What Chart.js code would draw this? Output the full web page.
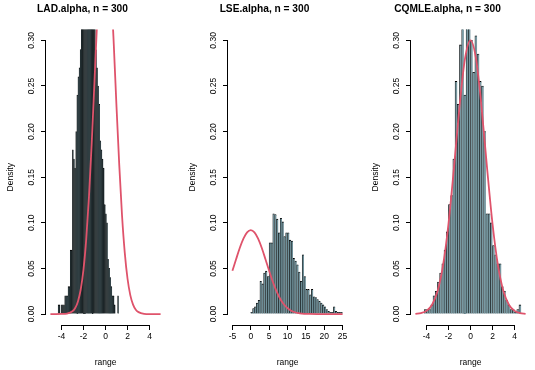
<!DOCTYPE html>
<html><head><meta charset="utf-8">
<script src="https://cdn.jsdelivr.net/npm/chart.js@4.4.1/dist/chart.umd.min.js"></script>
<style>
html,body{margin:0;padding:0;background:#fff;overflow:hidden;}
body{width:535px;height:370px;position:relative;}
canvas{position:absolute;top:0;}
</style></head><body>
<canvas id="p1" width="211" height="370" style="left:0px"></canvas>
<canvas id="p2" width="211" height="370" style="left:182px"></canvas>
<canvas id="p3" width="211" height="370" style="left:365px"></canvas>
<script>
// ---------- titles and ticks ----------
const ladTitle = 'LAD.alpha, n = 300';
const lseTitle = 'LSE.alpha, n = 300';
const cqTitle = 'CQMLE.alpha, n = 300';
const yTicks = [0, 0.05, 0.10, 0.15, 0.20, 0.25, 0.30];
const ladXTicks = [-4, -2, 0, 2, 4];
const lseXTicks = [-5, 0, 5, 10, 15, 20, 25];
const cqXTicks = [-4, -2, 0, 2, 4];

// ---------- LAD.alpha histogram (bin centres, density) ----------
const ladBins = [-4.25,-4.15,-4.05,-3.95,-3.85,-3.75,-3.65,-3.55,-3.45,-3.35,-3.25,-3.15,-3.05,-2.95,-2.85,-2.75,-2.65,-2.55,-2.45,-2.35,-2.25,-2.15,-2.05,-1.95,-1.85,-1.75,-1.65,-1.55,-1.45,-1.35,-1.25,-1.15,-1.05,-0.95,-0.85,-0.75,-0.65,-0.55,-0.45,-0.35,-0.25,-0.15,-0.05,0.05,0.15,0.25,0.35,0.45,0.55,0.65,0.75,0.85,0.95,1.05,1.15,1.25];
const ladDensity = [0.01,0.01,0.00,0.01,0.01,0.01,0.02,0.02,0.02,0.03,0.03,0.07,0.07,0.18,0.17,0.16,0.20,0.24,0.26,0.27,0.29,0.33,0.36,0.38,0.40,0.42,0.43,0.42,0.44,0.42,0.41,0.39,0.36,0.33,0.29,0.27,0.25,0.23,0.19,0.18,0.17,0.16,0.12,0.11,0.10,0.06,0.05,0.04,0.03,0.02,0.02,0.01,0.00,0.00,0.02,0.00];
const ladCurveX = [-5,-4.5,-4,-3.5,-3,-2.75,-2.5,-2.25,-2,-1.75,-1.5,-1.25,-1,-0.75,-0.5,-0.25,0,0.25,0.5,0.75,1,1.25,1.5,1.75,2,2.25,2.5,2.75,3,3.5,4,4.5,5];
const ladCurveY = [0,0,0.0001,0.0005,0.003,0.0066,0.0138,0.0269,0.0486,0.0819,0.1284,0.1875,0.255,0.323,0.380,0.417,0.426,0.406,0.359,0.296,0.227,0.163,0.108,0.067,0.0387,0.0208,0.0104,0.0048,0.0021,0.0003,0,0,0];

// ---------- LSE.alpha histogram ----------
const lseBins = [0.25,0.75,1.25,1.75,2.25,2.75,3.25,3.75,4.25,4.75,5.25,5.75,6.25,6.75,7.25,7.75,8.25,8.75,9.25,9.75,10.25,10.75,11.25,11.75,12.25,12.75,13.25,13.75,14.25,14.75,15.25,15.75,16.25,16.75,17.25,17.75,18.25,18.75,19.25,19.75,20.25,20.75,21.25,21.75,22.25,22.75,23.25,23.75,24.25,24.75];
const lseDensity = [0.002,0.006,0.008,0.012,0.015,0.036,0.033,0.045,0.047,0.041,0.078,0.078,0.110,0.109,0.104,0.089,0.105,0.101,0.085,0.089,0.089,0.081,0.080,0.061,0.058,0.054,0.046,0.036,0.065,0.041,0.027,0.027,0.021,0.027,0.019,0.018,0.016,0.014,0.012,0.010,0.008,0.005,0.003,0.002,0.002,0.008,0.003,0.002,0.002,0.002];
const lseCurveX = [-5,-4,-3,-2,-1,0,1,2,3,4,5,6,7,8,9,10,11,12,13,14,15,16,18,20,22,25];
const lseCurveY = [0.0474,0.0601,0.0724,0.0827,0.0896,0.092,0.0896,0.0827,0.0724,0.0601,0.0474,0.0354,0.0251,0.0168,0.0107,0.0065,0.0037,0.0020,0.0010,0.0005,0.0002,0.0001,0,0,0,0];

// ---------- CQMLE.alpha histogram ----------
const cqBins = [-4.3,-4.1,-3.9,-3.7,-3.5,-3.3,-3.1,-2.9,-2.7,-2.5,-2.3,-2.1,-1.9,-1.7,-1.5,-1.3,-1.1,-0.9,-0.7,-0.5,-0.3,-0.1,0.1,0.3,0.5,0.7,0.9,1.1,1.3,1.5,1.7,1.9,2.1,2.3,2.5,2.7,2.9,3.1,3.3,3.5,3.7,3.9,4.1,4.3,4.5];
const cqDensity = [0.000,0.005,0.005,0.005,0.010,0.020,0.025,0.035,0.045,0.055,0.070,0.090,0.120,0.130,0.170,0.255,0.230,0.295,0.315,0.240,0.315,0.315,0.300,0.265,0.305,0.285,0.255,0.250,0.200,0.110,0.110,0.100,0.075,0.065,0.055,0.055,0.030,0.025,0.015,0.010,0.005,0.005,0.002,0.005,0.010];
const cqCurveX = [-5,-4.5,-4,-3.5,-3,-2.5,-2,-1.5,-1,-0.5,0,0.5,1,1.5,2,2.5,3,3.5,4,4.5,5];
const cqCurveY = [0.0003,0.0011,0.0035,0.010,0.0246,0.0528,0.0987,0.1606,0.2272,0.2799,0.300,0.2799,0.2272,0.1606,0.0987,0.0528,0.0246,0.010,0.0035,0.0011,0.0003];

Chart.defaults.font.family = '"Liberation Sans", Arial, Helvetica, sans-serif';
Chart.defaults.color = '#000';

const alignPx = p => Math.round(p - 0.5) + 0.5;
const rAxes = {
  id: 'rAxes',
  afterDraw(chart) {
    const {ctx, chartArea: a, scales: {x, y}} = chart;
    const x0 = x.getPixelForValue(x.ticks[0].value);
    const x1 = x.getPixelForValue(x.ticks[x.ticks.length - 1].value);
    const y0 = y.getPixelForValue(y.ticks[0].value);
    const y1 = y.getPixelForValue(y.ticks[y.ticks.length - 1].value);
    ctx.save();
    ctx.strokeStyle = '#000';
    ctx.lineWidth = 1;
    ctx.beginPath();
    const by = Math.round(a.bottom) + 0.5;
    ctx.moveTo(alignPx(x0), by); ctx.lineTo(alignPx(x1), by);
    const lx = Math.round(a.left) - 0.5;
    ctx.moveTo(lx, alignPx(y0)); ctx.lineTo(lx, alignPx(y1));
    ctx.stroke();
    ctx.restore();
  }
};

function panel(id, title, bins, dens, cx, cy, xMin, xMax, xTicks, fillCol, edge) {
  new Chart(document.getElementById(id), {
    type: 'bar',
    data: {
      datasets: [
        {
          type: 'line',
          data: cx.map((v, i) => ({x: v, y: cy[i]})),
          borderColor: '#DF536B',
          borderWidth: 1.8,
          pointRadius: 0,
          fill: false,
          cubicInterpolationMode: 'monotone',
          clip: 0
        },
        {
          type: 'bar',
          data: bins.map((v, i) => ({x: v, y: dens[i]})),
          backgroundColor: fillCol,
          borderColor: '#000',
          borderWidth: {left: edge, top: 0.8, right: 0, bottom: 0},
          borderSkipped: false,
          barPercentage: 1,
          categoryPercentage: 1,
          clip: 0
        }
      ]
    },
    options: {
      responsive: false,
      animation: false,
      devicePixelRatio: 1,
      layout: {padding: {left: 0, right: 46, top: 0, bottom: 0}},
      plugins: {
        legend: {display: false},
        tooltip: {enabled: false},
        title: {
          display: true, text: title, color: '#000',
          font: {size: 10.2, weight: 'bold'},
          padding: {top: 3, bottom: 14.2}
        }
      },
      scales: {
        x: {
          type: 'linear', min: xMin, max: xMax, offset: false,
          afterBuildTicks: s => { s.ticks = xTicks.map(v => ({value: v})); },
          afterFit: s => { s.height = 45; },
          border: {display: false},
          grid: {display: true, offset: false, drawOnChartArea: false, drawTicks: true, tickLength: 5, color: '#000', lineWidth: 1},
          ticks: {font: {size: 8.5}, color: '#000', padding: 2, maxRotation: 0, autoSkip: false, callback: v => String(v)},
          title: {display: true, text: 'range', font: {size: 8.5}, color: '#000', padding: {top: 0, bottom: 2}}
        },
        y: {
          type: 'linear', min: -0.012, max: 0.312,
          afterBuildTicks: s => { s.ticks = yTicks.map(v => ({value: v})); },
          afterFit: s => { s.width = 46; },
          border: {display: false},
          grid: {display: true, drawOnChartArea: false, drawTicks: true, tickLength: 5, color: '#000', lineWidth: 1},
          ticks: {font: {size: 8.5}, color: '#000', padding: 1.2, minRotation: 90, maxRotation: 90, crossAlign: 'center', autoSkip: false, callback: v => v.toFixed(2)},
          title: {display: true, text: 'Density', font: {size: 8.5}, color: '#000', padding: {top: 6, bottom: 0}}
        }
      }
    },
    plugins: [rAxes]
  });
}

panel('p1', ladTitle, ladBins, ladDensity, ladCurveX, ladCurveY, -5.4, 5.4, ladXTicks, '#34464b', 0.5);
panel('p2', lseTitle, lseBins, lseDensity, lseCurveX, lseCurveY, -6.2, 26.2, lseXTicks, '#6f9099', 0.6);
panel('p3', cqTitle, cqBins, cqDensity, cqCurveX, cqCurveY, -5.4, 5.4, cqXTicks, '#7899a2', 0.6);
</script>
</body></html>
